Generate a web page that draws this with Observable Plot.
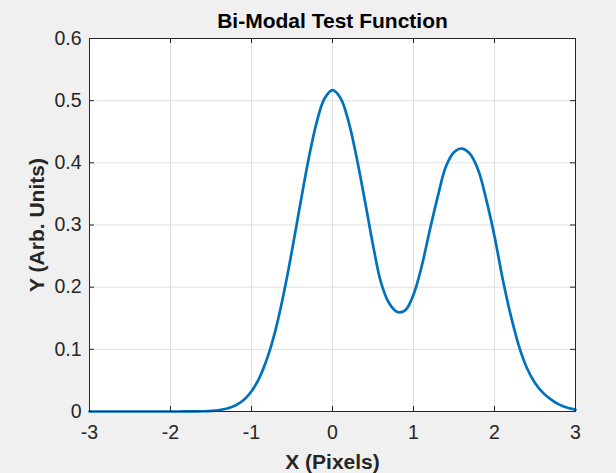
<!DOCTYPE html>
<html>
<head>
<meta charset="utf-8">
<script src="https://cdn.jsdelivr.net/npm/d3@7"></script>
<script src="https://cdn.jsdelivr.net/npm/@observablehq/plot@0.6"></script>
<style>
  html, body { margin: 0; padding: 0; background: #f0f0f0; }
  #chart { width: 616px; height: 473px; }
</style>
</head>
<body>
<div id="chart"></div>
<script>
// ---- data ----
const xValues = [
  -3.0, -2.9, -2.8, -2.7, -2.6, -2.5, -2.4, -2.3, -2.2, -2.1,
  -2.0, -1.9, -1.8, -1.7, -1.6, -1.5, -1.4, -1.3, -1.2, -1.1,
  -1.0, -0.9, -0.8, -0.7, -0.6, -0.5, -0.4, -0.3, -0.2, -0.1,
   0.0,  0.1,  0.2,  0.3,  0.4,  0.5,  0.6,  0.7,  0.8,  0.9,
   1.0,  1.1,  1.2,  1.3,  1.4,  1.5,  1.6,  1.7,  1.8,  1.9,
   2.0,  2.1,  2.2,  2.3,  2.4,  2.5,  2.6,  2.7,  2.8,  2.9,
   3.0
];
const yValues = [
  0, 0, 0, 0, 0, 0, 0, 0, 0, 0,
  0, 0, 0.0001, 0.0002, 0.0004, 0.001, 0.0023, 0.0048, 0.0096, 0.018,
  0.0325, 0.055, 0.088, 0.133, 0.191, 0.259, 0.332, 0.403, 0.4628, 0.503,
  0.517, 0.504, 0.4655, 0.407, 0.339, 0.268, 0.207, 0.174, 0.160, 0.163,
  0.188, 0.233, 0.291, 0.346, 0.394, 0.417, 0.423, 0.414, 0.388, 0.340,
  0.282, 0.214, 0.155, 0.106, 0.070, 0.046, 0.030, 0.019, 0.011, 0.006,
  0.003
];
const xTicks = [-3, -2, -1, 0, 1, 2, 3];
const yTicks = [0, 0.1, 0.2, 0.3, 0.4, 0.5, 0.6];
const yTickLabels = ["0", "0.1", "0.2", "0.3", "0.4", "0.5", "0.6"];
const titleText = "Bi-Modal Test Function";
const xLabel = "X (Pixels)";
const yLabel = "Y (Arb. Units)";

const data = xValues.map((x, i) => ({x, y: yValues[i]}));

const W = 616, H = 473;
const mL = 89, mR = 41, mT = 38, mB = 62;
const frameW = W - mL - mR, frameH = H - mT - mB;
const ink = "#262626";
const tick = 5;

const chart = Plot.plot({
  width: W,
  height: H,
  marginLeft: mL,
  marginRight: mR,
  marginTop: mT,
  marginBottom: mB,
  style: {background: "#f0f0f0", fontFamily: "'Liberation Sans', Arial, Helvetica, sans-serif", color: ink},
  x: {domain: [-3, 3]},
  y: {domain: [0, 0.6]},
  marks: [
    Plot.frame({fill: "white", stroke: null}),
    Plot.gridX(xTicks, {stroke: "#dfdfdf", strokeOpacity: 1, strokeWidth: 1}),
    Plot.gridY(yTicks, {stroke: "#dfdfdf", strokeOpacity: 1, strokeWidth: 1}),
    Plot.line(data, {x: "x", y: "y", stroke: "#0072bd", strokeWidth: 2.7, curve: "catmull-rom"}),
    Plot.frame({stroke: ink, strokeWidth: 1}),
    // inward ticks on all four sides
    Plot.tickX(xTicks, {x: d => d, stroke: ink, insetTop: frameH - tick}),
    Plot.tickX(xTicks, {x: d => d, stroke: ink, insetBottom: frameH - tick}),
    Plot.tickY(yTicks, {y: d => d, stroke: ink, insetRight: frameW - tick}),
    Plot.tickY(yTicks, {y: d => d, stroke: ink, insetLeft: frameW - tick}),
    Plot.axisX(xTicks, {tickSize: 0, tickPadding: 14, fontSize: 19.5, fill: ink, tickFormat: d => String(d), label: null}),
    Plot.axisY(yTicks, {tickSize: 0, tickPadding: 8, fontSize: 19.5, fill: ink, tickFormat: (d, i) => yTickLabels[i], label: null}),
    Plot.text([titleText], {frameAnchor: "top", lineAnchor: "middle", textAnchor: "middle", dy: -17, fontSize: 21, fontWeight: "bold", fill: "#000"}),
    Plot.text([xLabel], {frameAnchor: "bottom", lineAnchor: "middle", textAnchor: "middle", dy: 51, fontSize: 21, fontWeight: "bold", fill: ink}),
    Plot.text([yLabel], {frameAnchor: "left", lineAnchor: "middle", textAnchor: "middle", dx: -52, rotate: -90, fontSize: 21, fontWeight: "bold", fill: ink})
  ]
});
document.getElementById("chart").appendChild(chart);
</script>
</body>
</html>
